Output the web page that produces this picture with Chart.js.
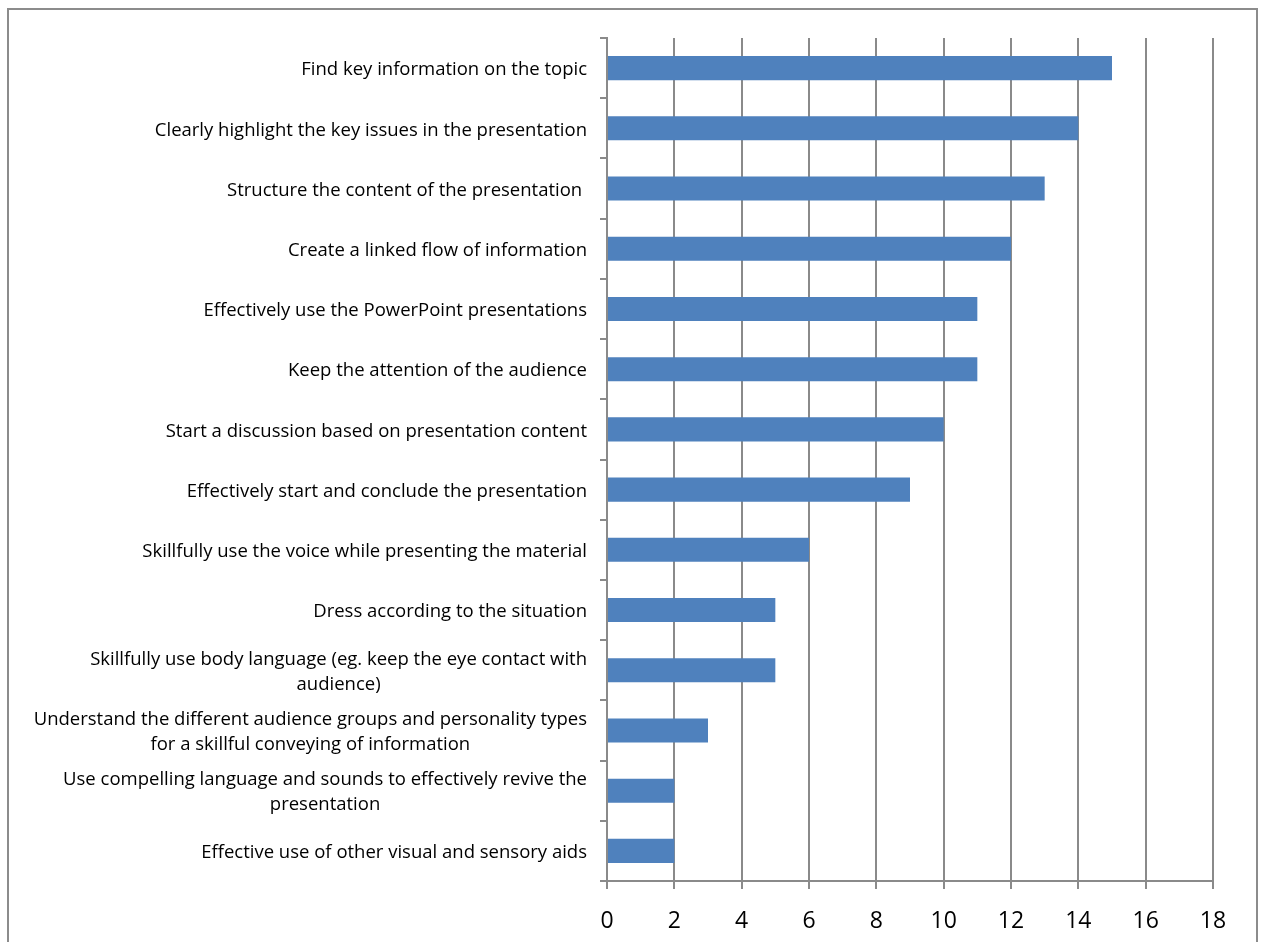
<!DOCTYPE html>
<html>
<head>
<meta charset="utf-8">
<script src="https://cdn.jsdelivr.net/npm/chart.js@4/dist/chart.umd.min.js"></script>
<style>
  html, body { margin: 0; padding: 0; background: #fff; overflow: hidden; }
  #wrap { position: relative; width: 1264px; height: 942px; }
  #frame {
    position: absolute; left: 7px; top: 8px; width: 1251px; height: 1000px;
    border: 2px solid #8c8c8c; box-sizing: border-box;
  }
  canvas { position: absolute; left: 0; top: 0; }
</style>
</head>
<body>
<div id="wrap">
  <div id="frame"></div>
  <canvas id="chart" width="1264" height="942"></canvas>
</div>
<script>
// skills, top to bottom; multi-line entries are wrapped by hand
const skills = [
  ['Find key information on the topic'],
  ['Clearly highlight the key issues in the presentation'],
  ['Structure the content of the presentation '],
  ['Create a linked flow of information'],
  ['Effectively use the PowerPoint presentations'],
  ['Keep the attention of the audience'],
  ['Start a discussion based on presentation content'],
  ['Effectively start and conclude the presentation'],
  ['Skillfully use the voice while presenting the material'],
  ['Dress according to the situation'],
  ['Skillfully use body language (eg. keep the eye contact with', 'audience)'],
  ['Understand the different audience groups and personality types', 'for a skillful conveying of information'],
  ['Use compelling language and sounds to effectively revive the', 'presentation'],
  ['Effective use of other visual and sensory aids']
];
const counts = [15, 14, 13, 12, 11, 11, 10, 9, 6, 5, 5, 3, 2, 2];
const xTicks = [0, 2, 4, 6, 8, 10, 12, 14, 16, 18];

const gridGray = '#8a8a8a';
const labelFont = "18.5px 'Open Sans', sans-serif";

// category labels: right-aligned block, wrapped lines centred inside it
const skillLabels = {
  id: 'skillLabels',
  afterDraw(chart) {
    const { ctx, scales: { y } } = chart;
    const right = 587;
    const lineGap = 25;
    ctx.save();
    ctx.font = labelFont;
    ctx.fillStyle = '#000';
    ctx.textAlign = 'center';
    ctx.textBaseline = 'middle';
    skills.forEach((lines, i) => {
      const mid = y.getPixelForTick(i) + 2;
      const w = Math.max(...lines.map((l) => ctx.measureText(l).width));
      const cx = right - w / 2;
      const top = mid - ((lines.length - 1) * lineGap) / 2;
      lines.forEach((l, k) => {
        const lw = ctx.measureText(l).width;
        // single lines hug the right edge, wrapped lines are centred
        const x = lines.length === 1 ? right - lw / 2 : cx;
        ctx.fillText(l, x, top + k * lineGap);
      });
    });
    ctx.restore();
  },
};

new Chart(document.getElementById('chart'), {
  type: 'bar',
  data: {
    labels: skills.map((s) => s.join(' ')),
    datasets: [{
      data: counts,
      backgroundColor: '#4f81bd',
      borderWidth: 0,
      barPercentage: 0.4,
      categoryPercentage: 1,
    }],
  },
  options: {
    indexAxis: 'y',
    responsive: false,
    animation: false,
    layout: { padding: { left: 600, top: 38, right: 51, bottom: 0 } },
    plugins: {
      legend: { display: false },
      tooltip: { enabled: false },
    },
    scales: {
      x: {
        min: 0,
        max: 18,
        afterBuildTicks: (axis) => { axis.ticks = xTicks.map((v) => ({ value: v })); },
        afterFit: (axis) => { axis.height = 61; },
        grid: { color: gridGray, lineWidth: 2, tickLength: 8 },
        border: { color: gridGray, width: 2 },
        ticks: {
          color: '#000',
          padding: 19,
          font: { family: "'Open Sans', sans-serif", size: 23 },
        },
      },
      y: {
        grid: { drawOnChartArea: false, color: gridGray, lineWidth: 2, tickLength: 7 },
        border: { color: gridGray, width: 2 },
        ticks: { display: false },
      },
    },
  },
  plugins: [skillLabels],
});
</script>
</body>
</html>
